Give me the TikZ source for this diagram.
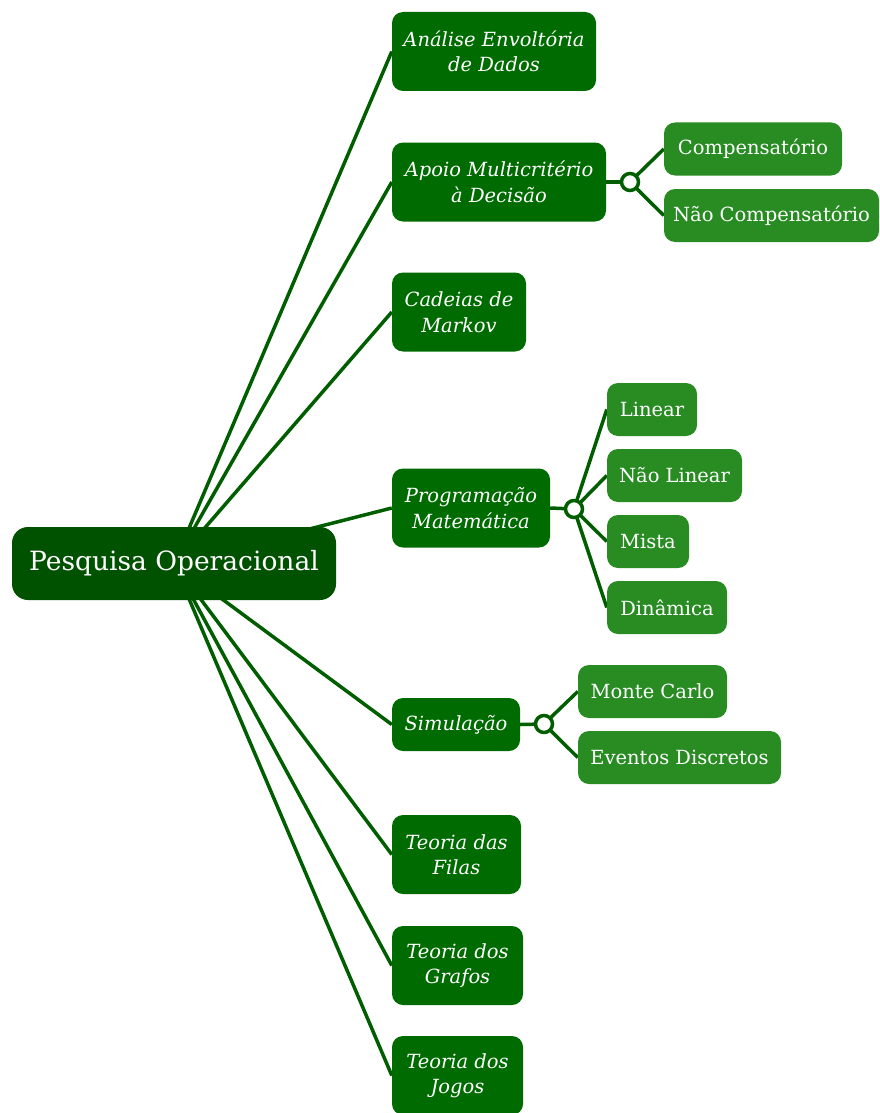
\documentclass[tikz,border=0pt]{standalone}
\usepackage{fontspec}
\setmainfont{DejaVu Serif}
\usetikzlibrary{backgrounds}
\definecolor{rootgreen}{HTML}{005200}
\definecolor{topicgreen}{HTML}{006B00}
\definecolor{leafgreen}{HTML}{288C23}
\definecolor{edgegreen}{HTML}{005E00}
\tikzset{
  rootbox/.style={fill=rootgreen, rounded corners=16pt, text=white, align=center,
    inner sep=0pt, font=\fontsize{26.5}{30}\selectfont},
  topicbox/.style={fill=topicgreen, rounded corners=11pt, text=white, align=center,
    inner sep=0pt, minimum height=79pt, font=\fontsize{19.5}{25.5}\selectfont\itshape},
  leafbox/.style={fill=leafgreen, rounded corners=11pt, text=white, align=center,
    inner sep=0pt, minimum height=53pt, font=\fontsize{19.5}{24}\selectfont},
  hub/.style={circle, draw=edgegreen, fill=white, line width=3.5pt, minimum size=17pt, inner sep=0pt},
  link/.style={draw=edgegreen, line width=3.5pt},
}
\begin{document}
\begin{tikzpicture}[x=1pt,y=-1pt]
\useasboundingbox (0,0) rectangle (879,1113);
% root
\node[rootbox, minimum width=324pt, minimum height=73pt] (root) at (174,563.5) {Pesquisa Operacional};
% topics
\node[topicbox, minimum width=204pt] (ead) at (494,51.5) {Análise Envoltória\\de Dados};
\node[topicbox, minimum width=214pt] (amd) at (499,182) {Apoio Multicritério\\à Decisão};
\node[topicbox, minimum width=134pt] (mkv) at (459,312) {Cadeias de\\Markov};
\node[topicbox, minimum width=158pt] (pm) at (471,508) {Programação\\Matemática};
\node[topicbox, minimum width=128pt, minimum height=53pt] (sim) at (456,724.5) {Simulação};
\node[topicbox, minimum width=129pt] (fil) at (456.5,854.5) {Teoria das\\Filas};
\node[topicbox, minimum width=131pt] (gra) at (457.5,965.5) {Teoria dos\\Grafos};
\node[topicbox, minimum width=131pt] (jog) at (457.5,1075.5) {Teoria dos\\Jogos};
% hubs
\node[hub] (h1) at (630,182) {};
\node[hub] (h2) at (574,509) {};
\node[hub] (h3) at (544,724) {};
% leaves
\node[leafbox, minimum width=178pt] (comp) at (753,149) {Compensatório};
\node[leafbox, minimum width=215pt] (ncomp) at (771.5,215.5) {Não Compensatório};
\node[leafbox, minimum width=90pt] (lin) at (652,409.5) {Linear};
\node[leafbox, minimum width=135pt] (nlin) at (674.5,475.5) {Não Linear};
\node[leafbox, minimum width=82pt] (mis) at (648,541.5) {Mista};
\node[leafbox, minimum width=120pt] (din) at (667,607.5) {Dinâmica};
\node[leafbox, minimum width=149pt] (mc) at (652.5,691.5) {Monte Carlo};
\node[leafbox, minimum width=203pt] (ed) at (679.5,757.5) {Eventos Discretos};
\begin{pgfonlayer}{background}
  \foreach \t in {ead,amd,mkv,pm,sim,fil,gra,jog}
    \draw[link] (root.center) -- (\t.west);
  \draw[link] (amd.east) -- (h1.center);
  \draw[link] (h1.center) -- (comp.west);
  \draw[link] (h1.center) -- (ncomp.west);
  \draw[link] (pm.east) -- (h2.center);
  \foreach \l in {lin,nlin,mis,din}
    \draw[link] (h2.center) -- (\l.west);
  \draw[link] (sim.east) -- (h3.center);
  \draw[link] (h3.center) -- (mc.west);
  \draw[link] (h3.center) -- (ed.west);
\end{pgfonlayer}
\end{tikzpicture}
\end{document}
